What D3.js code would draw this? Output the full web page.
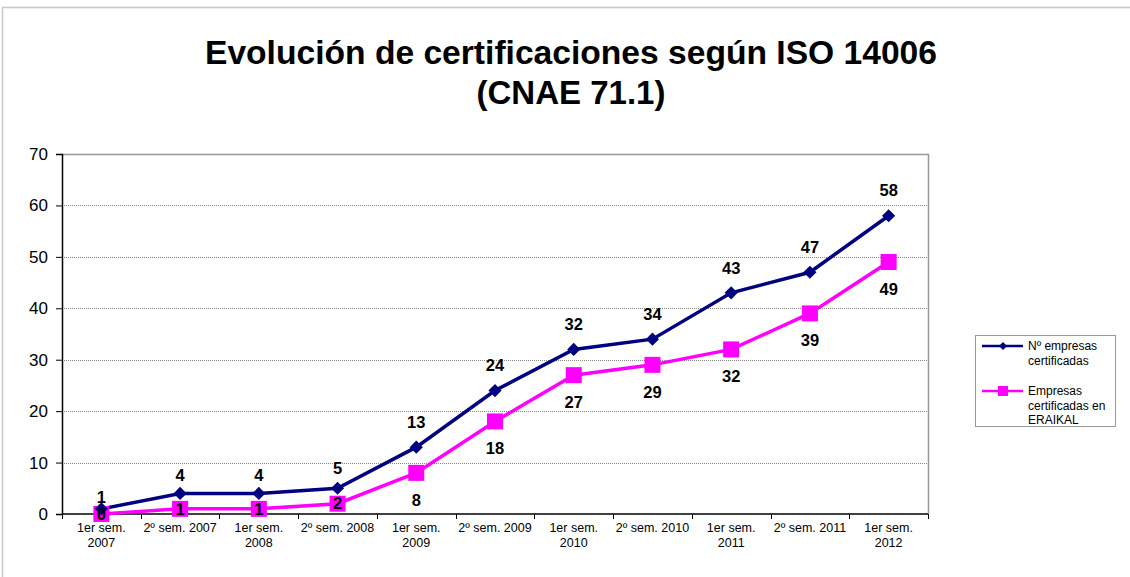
<!DOCTYPE html>
<html>
<head>
<meta charset="utf-8">
<script src="https://cdn.jsdelivr.net/npm/d3@7"></script>
<style>
  body { margin: 0; background: #fff; }
  text { font-family: "Liberation Sans", Arial, sans-serif; }
</style>
</head>
<body>
<div id="main"></div>
<script>
// data
var categories = [
  ["1er sem.", "2007"], ["2º sem. 2007"], ["1er sem.", "2008"], ["2º sem. 2008"],
  ["1er sem.", "2009"], ["2º sem. 2009"], ["1er sem.", "2010"], ["2º sem. 2010"],
  ["1er sem.", "2011"], ["2º sem. 2011"], ["1er sem.", "2012"]
];
var empresas = [1, 4, 4, 5, 13, 24, 32, 34, 43, 47, 58];
var eraikal = [0, 1, 1, 2, 8, 18, 27, 29, 32, 39, 49];
var yTicks = [0, 10, 20, 30, 40, 50, 60, 70];
var seriesNames = [["Nº empresas", "certificadas"], ["Empresas", "certificadas en", "ERAIKAL"]];

var margin = { top: 154, left: 62 },
  width = 928 - 62,
  height = 514 - 154;

var svgRoot = d3.select('#main')
  .append("svg")
  .attr('width', 1130)
  .attr('height', 577);

// chart frame
svgRoot.append("rect")
  .attr("x", 2.5).attr("y", 7.5)
  .attr("width", 1140).attr("height", 600)
  .attr("fill", "none")
  .attr("stroke", "#c8c8c8")
  .attr("stroke-width", 1.5);

// title
var title = svgRoot.append("text")
  .attr("text-anchor", "middle")
  .style("font-weight", "bold")
  .style("font-size", "33px");
title.append("tspan").attr("x", 571).attr("y", 64)
  .attr("textLength", 732).attr("lengthAdjust", "spacingAndGlyphs")
  .text("Evolución de certificaciones según ISO 14006");
title.append("tspan").attr("x", 571).attr("y", 104).text("(CNAE 71.1)");

var svg = svgRoot.append("g")
  .attr("transform", "translate(" + margin.left + "," + margin.top + ")");

var idx = d3.range(categories.length);
var xScale = d3.scaleBand().range([0, width]).domain(idx);
var yScale = d3.scaleLinear().range([height, 0]).domain([0, 70]);
var cx = i => xScale(i) + xScale.bandwidth() / 2;

// gridlines
svg.selectAll(".grid")
  .data(yTicks.slice(1, -1))
  .enter().append("line")
  .attr("x1", 0).attr("x2", width)
  .attr("y1", d => Math.round(yScale(d)) + 0.5)
  .attr("y2", d => Math.round(yScale(d)) + 0.5)
  .attr("stroke", "#888")
  .attr("stroke-dasharray", "1,1");

// plot border top/right
svg.append("path")
  .attr("d", "M0,0.5H" + (width + 0.5) + "V" + height)
  .attr("fill", "none")
  .attr("stroke", "#999")
  .attr("stroke-width", 1.5);

// y axis
var yAxis = svg.append("g")
  .call(d3.axisLeft(yScale).tickValues(yTicks).tickSize(6).tickPadding(8));
yAxis.select(".domain").attr("stroke", "#000").attr("stroke-width", 1.5);
yAxis.selectAll("line").attr("stroke", "#000");
yAxis.selectAll("text").style("font-size", "17px").attr("fill", "#000");

// x axis
var xAxis = svg.append("g").attr("transform", "translate(0," + height + ")");
xAxis.append("line")
  .attr("x1", 0).attr("x2", width).attr("y1", 0).attr("y2", 0)
  .attr("stroke", "#000").attr("stroke-width", 1.5);
xAxis.selectAll(".tick")
  .data(d3.range(categories.length + 1))
  .enter().append("line")
  .attr("x1", d => Math.round(d * xScale.step()) + 0.5)
  .attr("x2", d => Math.round(d * xScale.step()) + 0.5)
  .attr("y1", 0).attr("y2", 5)
  .attr("stroke", "#000");
var xLabels = xAxis.selectAll(".xlabel")
  .data(categories)
  .enter().append("text")
  .attr("text-anchor", "middle")
  .style("font-size", "12.5px")
  .attr("fill", "#000");
xLabels.selectAll("tspan")
  .data((d, i) => d.map(t => ({ t: t, i: i })))
  .enter().append("tspan")
  .attr("x", d => cx(d.i))
  .attr("y", (d, j) => 18 + j * 15)
  .text(d => d.t);

// lines
var navy = "#000080", pink = "#ff00ff";
var line = d3.line().x((d, i) => cx(i)).y(d => yScale(d));

svg.append("path").datum(eraikal)
  .attr("d", line).attr("fill", "none")
  .attr("stroke", pink).attr("stroke-width", 3.5);
svg.append("path").datum(empresas)
  .attr("d", line).attr("fill", "none")
  .attr("stroke", navy).attr("stroke-width", 3.5);

svg.selectAll(".sq")
  .data(eraikal)
  .enter().append("rect")
  .attr("x", (d, i) => cx(i) - 8)
  .attr("y", d => yScale(d) - 8)
  .attr("width", 16).attr("height", 16)
  .attr("fill", pink);

svg.selectAll(".dm")
  .data(empresas)
  .enter().append("path")
  .attr("d", d3.symbol(d3.symbolDiamond2, 110))
  .attr("transform", (d, i) => "translate(" + cx(i) + "," + yScale(d) + ")")
  .attr("fill", navy);

// data labels
svg.selectAll(".lab1")
  .data(empresas)
  .enter().append("text")
  .attr("x", (d, i) => cx(i))
  .attr("y", d => yScale(d) - Math.min(25, 10 + d * 2))
  .attr("dy", "0.35em")
  .attr("text-anchor", "middle")
  .style("font-size", "16.5px").style("font-weight", "bold")
  .text(d => d);

svg.selectAll(".lab2")
  .data(eraikal)
  .enter().append("text")
  .attr("x", (d, i) => cx(i))
  .attr("y", d => yScale(d) + 27 > height ? yScale(d) : yScale(d) + 27)
  .attr("dy", "0.35em")
  .attr("text-anchor", "middle")
  .style("font-size", "16.5px").style("font-weight", "bold")
  .text(d => d);

// legend
var legend = svgRoot.append("g").attr("transform", "translate(975,335)");
legend.append("rect")
  .attr("x", 0.5).attr("y", 0.5).attr("width", 140).attr("height", 91)
  .attr("fill", "#fff").attr("stroke", "#999");

var legItems = legend.selectAll(".legend")
  .data([navy, pink])
  .enter().append("g")
  .attr("transform", (d, i) => "translate(0," + (i === 0 ? 11 : 56) + ")");
legItems.append("line")
  .attr("x1", 7).attr("x2", 48).attr("y1", 0).attr("y2", 0)
  .attr("stroke", d => d).attr("stroke-width", 2.5);
legItems.each(function (d, i) {
  var g = d3.select(this);
  if (i === 0) {
    g.append("path").attr("d", d3.symbol(d3.symbolDiamond2, 40))
      .attr("transform", "translate(28,0)").attr("fill", d);
  } else {
    g.append("rect").attr("x", 23).attr("y", -5).attr("width", 10).attr("height", 10).attr("fill", d);
  }
  g.selectAll("text")
    .data(seriesNames[i])
    .enter().append("text")
    .attr("x", 53)
    .attr("y", (t, j) => j * 14.5)
    .attr("dy", "0.35em")
    .style("font-size", "12px")
    .text(t => t);
});
</script>
</body>
</html>
